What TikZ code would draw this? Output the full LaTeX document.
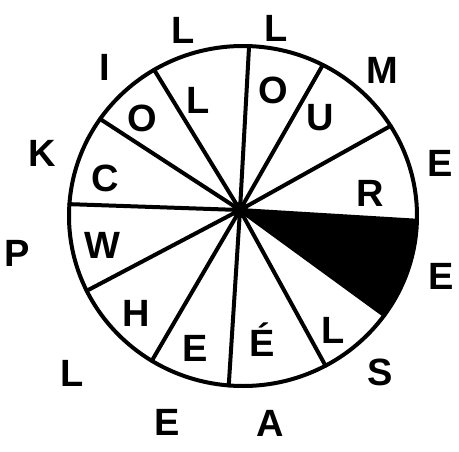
\documentclass[tikz,border=0pt]{standalone}
\usepackage{fontspec}
\setmainfont{Liberation Sans}
\begin{document}
\begin{tikzpicture}[x=1pt,y=-1pt,
  letter/.style={font=\fontsize{38}{40}\selectfont\bfseries, inner sep=0pt},
  rim/.style={line width=4pt, line join=round, line cap=round}]
  \useasboundingbox (0,0) rectangle (459,451);
  \def\rx{174}
  \def\ry{170}
  \coordinate (ctr) at (243,216);
  \coordinate (hub) at (240,210);
  % ends of the spokes on the rim (angles run clockwise here)
  \foreach \a [count=\i] in {-88,-62.7,-32,1.6,35.7,61.7,94.7,121.6,153.9,184,214.8,239.3}
    \path (ctr) ++(\a:174 and 170) coordinate (s\i);
  % black slice
  \fill (hub) -- (s4) arc[start angle=1.6, end angle=35.7, x radius=\rx, y radius=\ry] -- cycle;
  \draw[rim] (ctr) ellipse[x radius=\rx, y radius=\ry];
  \foreach \i in {1,...,12}
    \draw[rim] (hub) -- (s\i);
  \fill (hub) circle (8);
  % letters in the slices
  \node[letter] (o1) at (273,90) {O};
  \node[letter] (u) at (320,118) {U};
  \node[letter] (r) at (370,193) {R};
  \node[letter] (l1) at (333,330) {L};
  \node[letter] (e1) at (262,340) {É};
  \node[letter] (e2) at (195,348) {E};
  \node[letter] (h) at (136,313) {H};
  \node[letter] (w) at (102,245) {W};
  \node[letter] (c) at (105,178) {C};
  \node[letter] (o2) at (142,118) {O};
  \node[letter] (l2) at (198,100) {L};
  % letters round the rim
  \node[letter] (ol1) at (183,30) {L};
  \node[letter] (ol2) at (276,28) {L};
  \node[letter] (om) at (382,70) {M};
  \node[letter] (oe1) at (440,163) {E};
  \node[letter] (oe2) at (441,276) {E};
  \node[letter] (os) at (380,372) {S};
  \node[letter] (oa) at (270,423) {A};
  \node[letter] (oe3) at (167,422) {E};
  \node[letter] (ol3) at (72,373) {L};
  \node[letter] (op) at (17,253) {P};
  \node[letter] (ok) at (42,153) {K};
  \node[letter] (oi) at (105,67) {I};
\end{tikzpicture}
\end{document}
